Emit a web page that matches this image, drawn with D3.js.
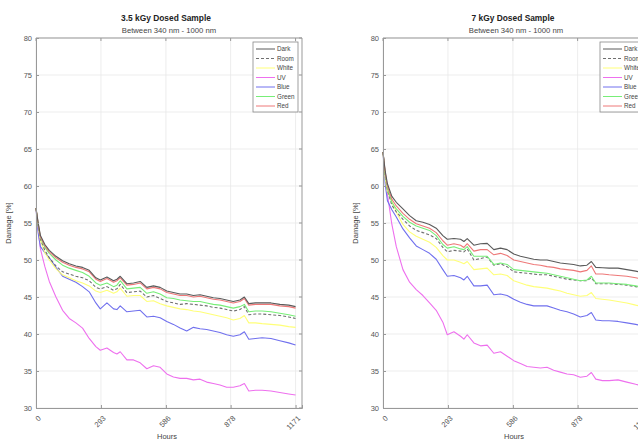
<!DOCTYPE html>
<html><head><meta charset="utf-8">
<script src="https://cdn.jsdelivr.net/npm/d3@7"></script>
<style>
body{margin:0;background:#fff;}
svg{display:block;font-family:"Liberation Sans",Arial,sans-serif;}
</style></head>
<body><svg id="c" width="638" height="441"></svg>
<script>
const hours = [0,10,20,40,60,90,120,150,180,210,240,270,290,320,350,365,380,410,440,470,500,530,560,590,620,650,680,710,740,770,800,830,860,890,920,940,960,990,1020,1060,1100,1140,1171];
const xTicks = [0,293,586,878,1171];
const yTicks = [30,35,40,45,50,55,60,65,70,75,80];
const seriesNames = ["Dark","Room","White","UV","Blue","Green","Red"];
const seriesColors = ["#5a5a5a","#707070","#ffff78","#ee70ee","#7070ee","#78ee78","#ee7878"];

// 3.5 kGy
const dark35  = [57,55.0,53.3,52.1,51.3,50.5,49.9,49.5,49.2,49.0,48.6,47.6,47.3,47.7,47.2,47.4,47.8,46.8,46.9,47.1,46.3,46.5,46.3,45.8,45.6,45.4,45.4,45.2,45.3,45.1,44.9,44.8,44.6,44.4,44.6,45.0,44.1,44.2,44.2,44.2,44.0,43.9,43.7];
const red35   = [57,54.9,53.1,51.9,51.1,50.3,49.7,49.3,49.0,48.8,48.4,47.4,47.1,47.5,47.0,47.2,47.6,46.6,46.7,46.9,46.1,46.3,46.1,45.6,45.4,45.2,45.2,45.0,45.1,44.9,44.7,44.6,44.4,44.2,44.4,44.8,43.9,44.0,44.0,44.0,43.8,43.7,43.5];
const green35 = [57,54.8,53.0,51.7,50.9,50.0,49.3,48.9,48.6,48.3,47.8,46.9,46.6,46.9,46.4,46.6,47.2,46.1,46.2,46.3,45.5,45.7,45.4,44.9,44.8,44.6,44.5,44.4,44.4,44.2,44.0,43.9,43.7,43.5,43.7,44.0,43.0,43.1,43.1,43.0,42.8,42.6,42.4];
const room35  = [57,54.6,52.8,51.3,50.3,49.2,48.4,48.1,47.8,47.6,47.2,46.3,46.1,46.4,45.9,46.1,46.7,45.6,45.7,45.8,45.0,45.2,44.8,44.4,44.2,44.0,44.1,44.0,43.9,43.8,43.6,43.5,43.3,43.1,43.3,43.7,42.6,42.7,42.7,42.6,42.5,42.3,42.1];
const white35 = [57,54.5,52.6,51.0,50.0,48.8,48.0,47.6,47.2,46.9,46.5,45.8,45.6,45.9,45.5,45.7,46.2,45.1,45.2,45.2,44.4,44.5,44.1,43.8,43.6,43.4,43.3,43.1,43.0,42.8,42.6,42.4,42.2,41.9,42.1,42.5,41.5,41.5,41.4,41.3,41.2,41.0,40.9];
const blue35  = [57,53.6,51.8,51.0,50.3,49.0,47.8,47.4,47.0,46.4,45.7,44.2,43.4,44.2,43.4,43.3,43.8,43.0,43.1,43.2,42.3,42.4,42.2,41.7,41.3,40.8,40.4,40.9,40.7,40.6,40.4,40.2,39.9,39.7,39.9,40.3,39.3,39.4,39.5,39.4,39.1,38.8,38.5];
const uv35    = [57,54.0,51.5,49.1,47.1,45.0,43.2,42.1,41.5,40.8,39.4,38.3,37.8,38.1,37.5,37.3,37.6,36.5,36.5,36.1,35.3,35.7,35.5,34.6,34.2,34.0,34.0,33.8,33.9,33.5,33.3,33.1,32.8,32.8,33.0,33.3,32.3,32.4,32.4,32.3,32.1,31.9,31.75];

// 7 kGy
const dark7  = [64.6,62.0,60.3,58.6,57.8,56.9,56.0,55.3,55.1,54.8,54.3,53.3,52.8,52.9,52.8,52.5,52.9,52.0,52.2,52.25,51.4,51.6,51.4,50.8,50.5,50.3,50.1,50.0,50.0,49.8,49.6,49.5,49.4,49.2,49.3,49.8,49.0,48.95,48.9,48.9,48.7,48.5,48.3];
const red7   = [64.6,61.8,60.0,58.2,57.3,56.3,55.5,54.9,54.6,54.3,53.7,52.6,52.0,52.2,52.0,51.7,52.2,51.2,51.4,51.4,50.7,50.9,50.6,50.0,49.8,49.6,49.4,49.3,49.1,49.0,48.8,48.7,48.6,48.4,48.6,49.2,48.1,48.1,48.0,47.9,47.8,47.6,47.4];
const green7 = [64.6,61.6,59.7,57.8,56.9,55.9,55.1,54.6,54.3,54.0,53.3,52.1,51.6,51.8,51.5,51.4,51.8,50.5,50.5,50.5,49.4,49.6,49.4,48.7,48.6,48.5,48.4,48.3,48.2,48.0,47.8,47.6,47.4,47.2,47.3,47.8,46.9,46.9,46.9,46.8,46.7,46.5,46.3];
const room7  = [64.6,61.4,59.4,57.4,56.5,55.5,54.6,54.0,53.7,53.4,52.9,51.7,51.1,51.3,51.2,51.1,51.5,50.0,50.2,50.4,49.3,49.5,49.1,48.4,48.3,48.2,48.1,48.0,48.0,47.8,47.6,47.4,47.3,47.2,47.2,47.6,46.8,46.8,46.8,46.7,46.6,46.4,46.2];
const white7 = [64.6,61.0,59.2,57.9,56.5,54.8,53.8,53.2,52.8,52.4,51.7,50.6,50.0,50.0,49.7,49.5,49.8,48.7,48.8,48.9,48.0,48.1,47.9,47.2,46.9,46.6,46.4,46.3,46.2,46.0,45.8,45.5,45.3,45.1,45.2,45.6,44.8,44.7,44.6,44.4,44.2,43.9,43.7];
const blue7  = [64.6,60.2,58.0,56.8,55.8,54.2,53.0,51.9,51.4,50.9,50.1,48.7,47.8,47.9,47.6,47.3,47.8,46.5,46.5,46.6,45.3,45.4,45.2,44.7,44.3,44.0,43.8,43.8,43.8,43.5,43.2,43.0,42.7,42.3,42.5,42.9,41.9,41.8,41.8,41.7,41.5,41.3,41.1];
const uv7    = [64.6,61.3,58.9,54.8,51.8,48.7,47.0,46.0,45.2,44.2,43.2,41.6,39.9,40.3,39.7,39.3,39.9,38.8,38.4,38.5,37.4,37.6,37.0,36.4,36.0,35.6,35.5,35.4,35.5,35.1,34.85,34.6,34.5,34.15,34.3,34.8,33.9,33.7,33.7,33.8,33.5,33.2,33.0];

const panels = [
  {title:"3.5 kGy Dosed Sample", x0:36, data:[dark35,room35,white35,uv35,blue35,green35,red35]},
  {title:"7 kGy Dosed Sample",   x0:383, data:[dark7,room7,white7,uv7,blue7,green7,red7]}
];

const svg = d3.select("#c");
const W = 266, yTop = 38, yBot = 408;
const drawOrder = [3,4,2,1,5,6,0];

panels.forEach(p => {
  const x = d3.scaleLinear().domain([0,1200]).range([p.x0, p.x0+W]);
  const y = d3.scaleLinear().domain([30,80]).range([yBot, yTop]);
  const g = svg.append("g");
  g.selectAll(".gx").data(xTicks).join("line")
    .attr("x1",d=>x(d)).attr("x2",d=>x(d)).attr("y1",yTop).attr("y2",yBot)
    .attr("stroke","#e8e8e8").attr("stroke-width",0.8);
  g.selectAll(".gy").data(yTicks).join("line")
    .attr("y1",d=>y(d)).attr("y2",d=>y(d)).attr("x1",p.x0).attr("x2",p.x0+W)
    .attr("stroke","#e8e8e8").attr("stroke-width",0.8);
  const line = d3.line().x((d,i)=>x(hours[i])).y(d=>y(d));
  drawOrder.forEach(k => {
    g.append("path").datum(p.data[k]).attr("d",line)
      .attr("fill","none").attr("stroke",seriesColors[k])
      .attr("stroke-width",1.1).attr("stroke-linejoin","round")
      .attr("stroke-dasharray", k===1 ? "3,2" : null);
  });
  const ax = d3.axisBottom(x).tickValues(xTicks).tickSize(-3).tickFormat(d3.format("d"));
  const axg = g.append("g").attr("transform",`translate(0,${yBot})`).call(ax);
  axg.selectAll("text").attr("x",null).attr("y",null).attr("dy","0.35em")
    .style("text-anchor","end")
    .attr("transform","translate(3,9) rotate(-45)")
    .attr("font-size",7.5).attr("fill","#555");
  const ay = d3.axisLeft(y).tickValues(yTicks).tickSize(-3).tickPadding(4);
  const ayg = g.append("g").attr("transform",`translate(${p.x0},0)`).call(ay);
  ayg.selectAll("text").attr("font-size",7.5).attr("fill","#555");
  [axg,ayg].forEach(a=>{a.select(".domain").attr("stroke","#999");a.selectAll(".tick line").attr("stroke","#999");});
  g.append("line").attr("x1",p.x0).attr("x2",p.x0+W).attr("y1",yTop).attr("y2",yTop).attr("stroke","#999");
  g.append("line").attr("x1",p.x0+W).attr("x2",p.x0+W).attr("y1",yTop).attr("y2",yBot).attr("stroke","#999");
  g.selectAll(".tt").data(xTicks).join("line").attr("x1",d=>x(d)).attr("x2",d=>x(d)).attr("y1",yTop).attr("y2",yTop+3).attr("stroke","#999");
  g.selectAll(".tr").data(yTicks).join("line").attr("y1",d=>y(d)).attr("y2",d=>y(d)).attr("x1",p.x0+W).attr("x2",p.x0+W-3).attr("stroke","#999");
  const cx = p.x0 + W/2;
  g.append("text").attr("x",cx-3).attr("y",21).attr("text-anchor","middle")
    .attr("font-size",8.4).attr("font-weight","bold").attr("fill","#222").text(p.title);
  g.append("text").attr("x",cx).attr("y",33).attr("text-anchor","middle")
    .attr("font-size",7.7).attr("fill","#444").text("Between 340 nm - 1000 nm");
  g.append("text").attr("x",cx-2).attr("y",439).attr("text-anchor","middle")
    .attr("font-size",7.5).attr("fill","#444").text("Hours");
  g.append("text").attr("transform",`translate(${p.x0-25},${(yTop+yBot)/2}) rotate(-90)`)
    .attr("text-anchor","middle").attr("font-size",7.5).attr("fill","#444").text("Damage [%]");
  const lx = p.x0 + W - 49, ly = 42;
  const lg = g.append("g");
  lg.append("rect").attr("x",lx).attr("y",ly).attr("width",45).attr("height",70)
    .attr("fill","#fff").attr("stroke","#888").attr("stroke-width",0.8);
  seriesNames.forEach((n,i)=>{
    const yy = ly + 7 + i*9.5;
    lg.append("line").attr("x1",lx+3).attr("x2",lx+22).attr("y1",yy).attr("y2",yy)
      .attr("stroke",seriesColors[i]).attr("stroke-width",1)
      .attr("stroke-dasharray", i===1 ? "3,2" : null);
    lg.append("text").attr("x",lx+24).attr("y",yy+2.3).attr("font-size",6.3).attr("fill","#444").text(n);
  });
});
</script></body></html>
